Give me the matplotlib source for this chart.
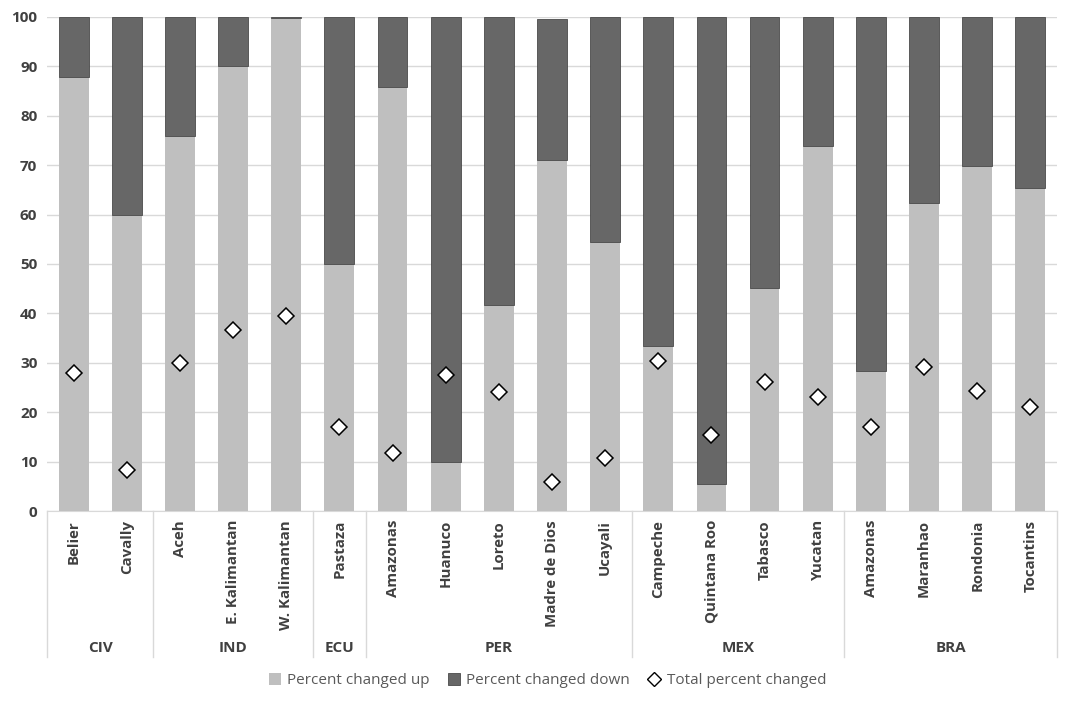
import matplotlib
matplotlib.use("Agg")
import matplotlib.pyplot as plt
from matplotlib.lines import Line2D
from matplotlib.patches import Patch

plt.rcParams['font.family'] = ['Open Sans', 'DejaVu Sans']

# data
places = ["Belier", "Cavally", "Aceh", "E. Kalimantan", "W. Kalimantan", "Pastaza",
          "Amazonas", "Huanuco", "Loreto", "Madre de Dios", "Ucayali",
          "Campeche", "Quintana Roo", "Tabasco", "Yucatan",
          "Amazonas", "Maranhao", "Rondonia", "Tocantins"]
countries = ["CIV", "IND", "ECU", "PER", "MEX", "BRA"]
group_sizes = [2, 3, 1, 5, 4, 4]
up = [87.9, 60.0, 75.8, 90.0, 99.7, 50.0,
      85.8, 9.9, 41.6, 71.1, 54.5,
      33.3, 5.5, 45.1, 73.8,
      28.4, 62.4, 69.9, 65.3]
down = [12.1, 40.0, 24.2, 10.0, 0.3, 50.0,
        14.2, 90.1, 58.4, 28.5, 45.5,
        66.7, 94.5, 54.9, 26.2,
        71.6, 37.6, 30.1, 34.7]
total = [27.9, 8.4, 30.0, 36.7, 39.4, 17.0,
         11.8, 27.5, 24.0, 5.9, 10.8,
         30.3, 15.3, 26.2, 23.0,
         17.0, 29.2, 24.3, 21.0]

c_up = "#bfbfbf"
c_down = "#676767"
txt = "#404040"

fig = plt.figure(figsize=(10.84, 7.02), dpi=100)
ax = fig.add_axes([0.0434, 0.272, 0.9316, 0.704])

x = list(range(len(places)))
ax.bar(x, up, width=0.56, color=c_up, zorder=2)
ax.bar(x, down, width=0.56, bottom=up, color=c_down, edgecolor="#4a4a4a",
       linewidth=0.6, zorder=2)
ax.plot(x, total, linestyle="none", marker="D", markersize=8.5,
        markerfacecolor="white", markeredgecolor="black", markeredgewidth=1.1,
        zorder=3)

ax.set_xlim(-0.5, len(places) - 0.5)
ax.set_ylim(0, 100)
ax.set_yticks(range(0, 101, 10))
ax.tick_params(axis="y", length=0, labelsize=11, labelcolor=txt, pad=7)
for lab in ax.get_yticklabels():
    lab.set_fontweight("bold")
ax.set_xticks([])
ax.grid(axis="y", color="#d9d9d9", linewidth=1, zorder=0)
for s in ["left", "right", "top"]:
    ax.spines[s].set_visible(False)
ax.spines["bottom"].set_color("#d9d9d9")
ax.spines["bottom"].set_zorder(1)

# two level category axis
tr = ax.get_xaxis_transform()
for i, name in enumerate(places):
    ax.text(i, -0.018, name, transform=tr, rotation=90, ha="center", va="top",
            fontsize=10.8, fontweight="bold", color=txt)

start = 0
bounds = [-0.5]
for cname, n in zip(countries, group_sizes):
    mid = start + (n - 1) / 2
    ax.text(mid, -0.277, cname, transform=tr, ha="center", va="center",
            fontsize=11, fontweight="bold", color=txt)
    start += n
    bounds.append(start - 0.5)
for b in bounds:
    ax.plot([b, b], [0, -0.296], transform=tr, color="#d9d9d9", linewidth=1,
            clip_on=False)

handles = [Patch(facecolor=c_up, edgecolor="none"),
           Patch(facecolor=c_down, edgecolor="#4a4a4a", linewidth=0.6),
           Line2D([], [], linestyle="none", marker="D", markersize=7,
                  markerfacecolor="white", markeredgecolor="black")]
leg = fig.legend(handles, ["Percent changed up", "Percent changed down", "Total percent changed"],
                 loc="lower center", bbox_to_anchor=(0.505, 0.0), ncol=3, frameon=False,
                 fontsize=11, handlelength=0.8, handleheight=0.8, handletextpad=0.4,
                 columnspacing=1.2)
for t in leg.get_texts():
    t.set_color("#595959")

fig.savefig("out.png", dpi=100)
